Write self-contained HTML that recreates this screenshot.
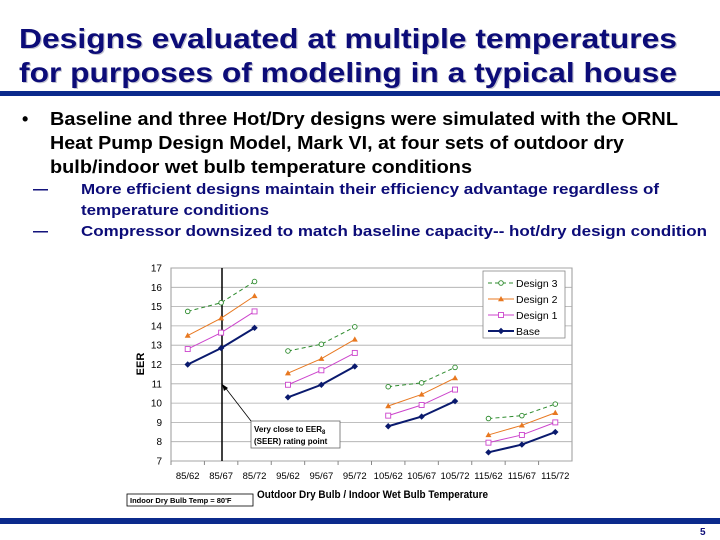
<!DOCTYPE html>
<html><head><meta charset="utf-8"><style>
html,body{margin:0;padding:0;background:#fff;width:720px;height:540px;overflow:hidden}
svg{display:block;font-family:"Liberation Sans",Arial,sans-serif}
</style></head><body>
<svg id="slide" width="720" height="540" viewBox="0 0 720 540">
<g font-weight="bold" font-size="28" fill="#0c0c78">
<text x="19" y="48" fill="#c4c4d0" dx="1.2" dy="1.2" textLength="658" lengthAdjust="spacingAndGlyphs">Designs evaluated at multiple temperatures</text>
<text x="19" y="82" fill="#c4c4d0" dx="1.2" dy="1.2" textLength="658" lengthAdjust="spacingAndGlyphs">for purposes of modeling in a typical house</text>
<text x="19" y="48" textLength="658" lengthAdjust="spacingAndGlyphs">Designs evaluated at multiple temperatures</text>
<text x="19" y="82" textLength="658" lengthAdjust="spacingAndGlyphs">for purposes of modeling in a typical house</text>
</g>
<rect x="0" y="91" width="720" height="5" fill="#0b2a8c"/>
<g font-weight="bold" font-size="18" fill="#000">
<text x="22" y="125">•</text>
<text x="50" y="125" textLength="628" lengthAdjust="spacingAndGlyphs">Baseline and three Hot/Dry designs were simulated with the ORNL</text>
<text x="50" y="149" textLength="574" lengthAdjust="spacingAndGlyphs">Heat Pump Design Model, Mark VI, at four sets of outdoor dry</text>
<text x="50" y="173" textLength="422" lengthAdjust="spacingAndGlyphs">bulb/indoor wet bulb temperature conditions</text>
</g>
<g font-weight="bold" font-size="15" fill="#0c0c78">
<text x="33" y="194">—</text>
<text x="81" y="194" textLength="578" lengthAdjust="spacingAndGlyphs">More efficient designs maintain their efficiency advantage regardless of</text>
<text x="81" y="215" textLength="188" lengthAdjust="spacingAndGlyphs">temperature conditions</text>
<text x="33" y="236">—</text>
<text x="81" y="236" textLength="626" lengthAdjust="spacingAndGlyphs">Compressor downsized to match baseline capacity-- hot/dry design condition</text>
</g>
<g id="chart"></g>
<rect x="0" y="518" width="720" height="6" fill="#0b2a8c"/>
<text x="700" y="535" font-size="10" font-weight="bold" fill="#0c0c78">5</text>
</svg>
<script>
const categories=["85/62","85/67","85/72","95/62","95/67","95/72","105/62","105/67","105/72","115/62","115/67","115/72"];
const design3=[14.75,15.2,16.3,12.7,13.05,13.95,10.85,11.05,11.85,9.2,9.35,9.95];
const design2=[13.5,14.4,15.55,11.55,12.3,13.3,9.85,10.45,11.3,8.35,8.85,9.5];
const design1=[12.8,13.65,14.75,10.95,11.7,12.6,9.35,9.9,10.7,7.95,8.35,9.0];
const base=[12.0,12.85,13.9,10.3,10.95,11.9,8.8,9.3,10.1,7.45,7.85,8.5];
const yTicks=[7,8,9,10,11,12,13,14,15,16,17];
const seriesNames=["Design 3","Design 2","Design 1","Base"];

const NS="http://www.w3.org/2000/svg";
const g=document.getElementById('chart');
const X0=171,X1=572,Y0=461,Y1=268,YMIN=7,YMAX=17;
const bw=(X1-X0)/categories.length;
function xs(i){return X0+bw*(i+0.5);}
function ys(v){return Y0-(v-YMIN)/(YMAX-YMIN)*(Y0-Y1);}
function mk(tag,attrs,parent){const e=document.createElementNS(NS,tag);for(const k in attrs)e.setAttribute(k,attrs[k]);(parent||g).appendChild(e);return e;}

const plot=mk('rect',{x:X0,y:Y1,width:X1-X0,height:Y0-Y1,fill:'#fff',stroke:'#999','stroke-width':1});


yTicks.forEach(t=>{
  const l=mk('line',{x1:X0,x2:X1,y1:ys(t),y2:ys(t),stroke:'#aaa','stroke-width':0.8});
  
  
  const tx=mk('text',{x:X0-9,y:ys(t)+3.5,'text-anchor':'end','font-size':10,fill:'#000'});
  tx.textContent=t;
  
  
});
categories.forEach((c,i)=>{
  const tk=mk('line',{x1:X0+bw*i,x2:X0+bw*i,y1:Y0,y2:Y0+4,stroke:'#888'});
  
  
  const tx=mk('text',{x:xs(i),y:479,'text-anchor':'middle','font-size':9.5,fill:'#000'});
  tx.textContent=c;
  
  
});
const yt=mk('text',{x:144,y:364,'text-anchor':'middle','font-size':11,'font-weight':'bold',transform:'rotate(-90 144 364)'});
yt.textContent='EER';


const xt=mk('text',{x:257,y:498,'font-size':11,'font-weight':'bold',textLength:231,lengthAdjust:'spacingAndGlyphs'});
xt.textContent='Outdoor Dry Bulb / Indoor Wet Bulb Temperature';



const vl=mk('line',{x1:222,x2:222,y1:Y1,y2:Y0,stroke:'#000','stroke-width':1.5});



const styles=[
 {c:'#2e8b2e',w:1,dash:'4,3',m:'circle'},
 {c:'#e87820',w:1,dash:'',m:'tri'},
 {c:'#cc44cc',w:1,dash:'',m:'square'},
 {c:'#0a1a6e',w:2,dash:'',m:'diamond'}];
const allSeries=[design3,design2,design1,base];
function marker(type,x,y,s,parent){
  let e;
  if(type==='circle')e=mk('circle',{cx:x,cy:y,r:2.3,fill:'#fff',stroke:s.c,'stroke-width':0.9},parent);
  else if(type==='tri')e=mk('polygon',{points:`${x},${y-3} ${x-3},${y+2.2} ${x+3},${y+2.2}`,fill:s.c},parent);
  else if(type==='square')e=mk('rect',{x:x-2.5,y:y-2.5,width:5,height:5,fill:'#fff',stroke:s.c,'stroke-width':0.9},parent);
  else e=mk('polygon',{points:`${x},${y-3.2} ${x+3.2},${y} ${x},${y+3.2} ${x-3.2},${y}`,fill:s.c},parent);
  return e;
}
allSeries.forEach((vals,si)=>{
  const s=styles[si];
  const sg=mk('g',{});
  
  
  for(let grp=0;grp<4;grp++){
    const pts=[];
    for(let k=0;k<3;k++){const i=grp*3+k;pts.push(xs(i)+','+ys(vals[i]));}
    const pl=mk('polyline',{points:pts.join(' '),fill:'none',stroke:s.c,'stroke-width':s.w,'stroke-dasharray':s.dash},sg);
    
    
  }
  vals.forEach((v,i)=>{
    const m=marker(s.m,xs(i),ys(v),s,sg);
    
    
  });
});

const lg=mk('g',{});


mk('rect',{x:483,y:271,width:82,height:67,fill:'#fff',stroke:'#888','stroke-width':0.8},lg);
seriesNames.forEach((n,si)=>{
  const s=styles[si];const y=283+si*16;
  const le=mk('g',{},lg);
  
  
  mk('line',{x1:488,x2:514,y1:y,y2:y,stroke:s.c,'stroke-width':s.w,'stroke-dasharray':s.dash},le);
  marker(s.m,501,y,s,le);
  const t=mk('text',{x:516,y:y+4,'font-size':10.5,fill:'#000'},le);
  t.textContent=n;
});

const an=mk('g',{});


mk('rect',{x:251,y:421,width:89,height:27,fill:'#fff',stroke:'#666','stroke-width':0.8},an);
const a1=mk('text',{x:254,y:432,'font-size':8,'font-weight':'bold'},an);
a1.innerHTML='Very close to EER<tspan font-size="6" dy="2">8</tspan>';
const a2=mk('text',{x:254,y:444,'font-size':8,'font-weight':'bold'},an);
a2.textContent='(SEER) rating point';
mk('line',{x1:251,y1:421,x2:224,y2:386,stroke:'#000','stroke-width':0.8},an);
mk('polygon',{points:'222,384 224,391 228,388',fill:'#000'},an);

const ib=mk('g',{});


mk('rect',{x:127,y:494,width:126,height:12,fill:'#fff',stroke:'#000','stroke-width':0.8},ib);
const it=mk('text',{x:130,y:503,'font-size':7.5,'font-weight':'bold'},ib);
it.textContent="Indoor Dry Bulb Temp = 80'F";
</script>
</body></html>
